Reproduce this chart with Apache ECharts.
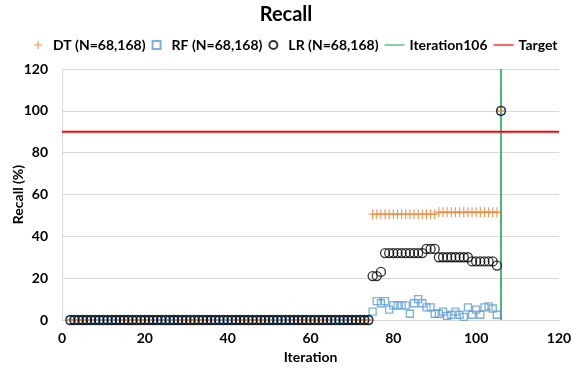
<!DOCTYPE html>
<html>
<head>
<meta charset="utf-8">
<script src="https://cdn.jsdelivr.net/npm/echarts@6/dist/echarts.min.js"></script>
<style>
html,body{margin:0;padding:0;background:#fff;}
#chart{width:572px;height:372px;}
</style>
</head>
<body>
<div id="chart"></div>
<script>
// Iterations 2..106
const iterations = [2,3,4,5,6,7,8,9,10,11,12,13,14,15,16,17,18,19,20,21,22,23,24,25,26,27,28,29,30,31,32,33,34,35,36,37,38,39,40,41,42,43,44,45,46,47,48,49,50,51,52,53,54,55,56,57,58,59,60,61,62,63,64,65,66,67,68,69,70,71,72,73,74,75,76,77,78,79,80,81,82,83,84,85,86,87,88,89,90,91,92,93,94,95,96,97,98,99,100,101,102,103,104,105,106];
const dtValues = [0,0,0,0,0,0,0,0,0,0,0,0,0,0,0,0,0,0,0,0,0,0,0,0,0,0,0,0,0,0,0,0,0,0,0,0,0,0,0,0,0,0,0,0,0,0,0,0,0,0,0,0,0,0,0,0,0,0,0,0,0,0,0,0,0,0,0,0,0,0,0,0,0,
  50.6,50.6,50.6,50.6,50.6,50.6,50.6,50.6,50.6,50.6,50.6,50.6,50.6,50.6,50.6,50.6,
  51.5,51.5,51.5,51.5,51.5,51.5,51.5,51.5,51.5,51.5,51.5,51.5,51.5,51.5,51.5,
  100];
const rfValues = [0,0,0,0,0,0,0,0,0,0,0,0,0,0,0,0,0,0,0,0,0,0,0,0,0,0,0,0,0,0,0,0,0,0,0,0,0,0,0,0,0,0,0,0,0,0,0,0,0,0,0,0,0,0,0,0,0,0,0,0,0,0,0,0,0,0,0,0,0,0,0,0,0,
  4,9,8,9,5,7,7,7,7,3,8,10,8,6,6,3,3,4,2,2.5,4,2.5,1.5,6,2.5,5,2.5,6,6.5,5.5,2.5,
  100];
const lrValues = [0,0,0,0,0,0,0,0,0,0,0,0,0,0,0,0,0,0,0,0,0,0,0,0,0,0,0,0,0,0,0,0,0,0,0,0,0,0,0,0,0,0,0,0,0,0,0,0,0,0,0,0,0,0,0,0,0,0,0,0,0,0,0,0,0,0,0,0,0,0,0,0,0,
  21,21,23,32,32,32,32,32,32,32,32,32,32,34,34,34,30,30,30,30,30,30,30,30,28,28,28,28,28,28,26,
  100];
const seriesNames = ['DT (N=68,168)','RF (N=68,168)','LR (N=68,168)','Iteration106','Target'];
const markerIteration = 106;
const targetValue = 90;
const xTicks = [0,20,40,60,80,100,120];
const yTicks = [0,20,40,60,80,100,120];

const pairs = vals => iterations.map((x,i)=>[x, vals[i]]);
const font = 'Lato, "Open Sans", sans-serif';
const plusPath = 'path://M4.3,0H5.7V4.3H10V5.7H5.7V10H4.3V5.7H0V4.3H4.3Z';
const squareIcon = 'path://M0,0H10V10H0Z';
const lineIcon = 'path://M0,0H30V1.8H0Z';

const chart = echarts.init(document.getElementById('chart'), null, {renderer:'canvas'});
chart.setOption({
  animation:false,
  title:{text:'Recall', left:'center', top:0, textStyle:{fontFamily:font, fontWeight:'bold', fontSize:20, color:'#000'}},
  legend:{
    top:38, left:34, width:560, padding:0, itemGap:6, itemWidth:20, itemHeight:8,
    textStyle:{fontFamily:font, fontWeight:'bold', fontSize:14, color:'#000'},
    data:[
      {name:seriesNames[0], icon:plusPath},
      {name:seriesNames[1], icon:squareIcon},
      {name:seriesNames[2], icon:'circle'},
      {name:seriesNames[3], icon:lineIcon, itemStyle:{color:'#33B366', borderWidth:0}},
      {name:seriesNames[4], icon:lineIcon, itemStyle:{color:'#FF0000', borderWidth:0}}
    ]
  },
  grid:{left:62, right:13, top:69, bottom:52, containLabel:false, outerBoundsMode:'none'},
  xAxis:{
    type:'value', min:xTicks[0], max:xTicks[xTicks.length-1], interval:20,
    name:'Iteration', nameLocation:'middle', nameGap:30, nameMoveOverlap:false,
    nameTextStyle:{fontFamily:font, fontWeight:'bold', fontSize:14, color:'#000'},
    axisLine:{show:true, lineStyle:{color:'#D9D9D9'}},
    axisTick:{show:false},
    axisLabel:{fontFamily:font, fontWeight:'bold', fontSize:14, color:'#000', margin:11},
    splitLine:{show:false}
  },
  yAxis:{
    type:'value', min:yTicks[0], max:yTicks[yTicks.length-1], interval:20,
    name:'Recall (%)', nameLocation:'middle', nameGap:37, nameMoveOverlap:false,
    nameTextStyle:{fontFamily:font, fontWeight:'bold', fontSize:14, color:'#000'},
    axisLine:{show:true, lineStyle:{color:'#D9D9D9'}},
    axisTick:{show:false},
    axisLabel:{fontFamily:font, fontWeight:'bold', fontSize:14, color:'#000', margin:14},
    splitLine:{show:true, lineStyle:{color:'#D9D9D9'}}
  },
  series:[
    {name:seriesNames[0], type:'scatter', data:pairs(dtValues), symbol:plusPath, symbolSize:[8,10],
     itemStyle:{color:'#ED7D31'}},
    {name:seriesNames[1], type:'scatter', data:pairs(rfValues), symbol:'rect', symbolSize:7,
     itemStyle:{color:'rgba(0,0,0,0)', borderColor:'#5B9BD5', borderWidth:1.3}},
    {name:seriesNames[2], type:'scatter', data:pairs(lrValues), symbol:'circle', symbolSize:9,
     itemStyle:{color:'rgba(0,0,0,0)', borderColor:'#000', borderWidth:1.3}},
    {name:seriesNames[3], type:'line', data:[[markerIteration, yTicks[0]],[markerIteration, yTicks[yTicks.length-1]]],
     showSymbol:false, symbol:'none', lineStyle:{color:'#33B366', width:1.8}, itemStyle:{color:'#33B366'}, z:1},
    {name:seriesNames[4], type:'line', data:[[xTicks[0], targetValue],[xTicks[xTicks.length-1], targetValue]],
     showSymbol:false, symbol:'none', lineStyle:{color:'#FF0000', width:1.8}, itemStyle:{color:'#FF0000'}, z:1}
  ]
});
</script>
</body>
</html>
